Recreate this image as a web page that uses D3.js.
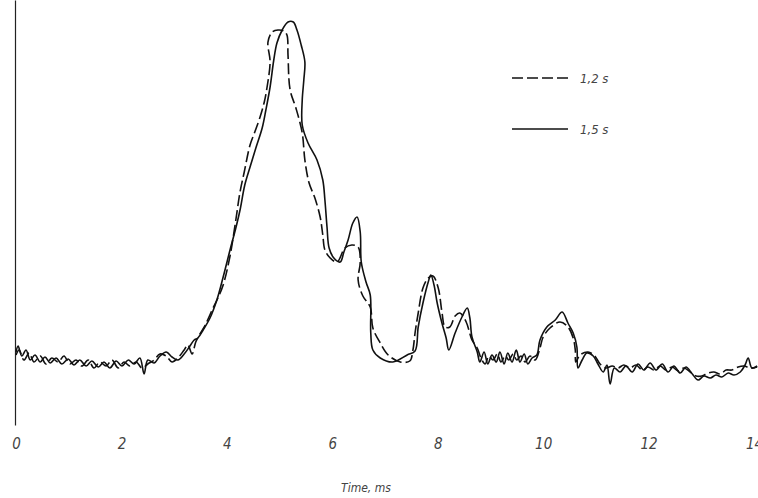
<!DOCTYPE html>
<html>
<head>
<meta charset="utf-8">
<script src="https://cdn.jsdelivr.net/npm/d3@7"></script>
<style>
  body { margin: 0; background: #fff; }
  text { font-family: "Liberation Sans Narrow", "DejaVu Sans Condensed", sans-serif; font-style: italic; fill: #444; }
</style>
</head>
<body>
<div id="viz"></div>
<script>
var width = 758;
var height = 498;

// series names (legend) and their traces: [time ms, amplitude]
var seriesNames = ['1,2 s', '1,5 s'];
var xTicks = [0, 2, 4, 6, 8, 10, 12, 14];

var trace12 = [
    [0.00,16.25],[0.06,17.5],[0.15,15.0],[0.25,16.75],[0.34,14.5],[0.46,16.0],[0.57,14.0],[0.68,15.5],
    [0.80,14.5],[0.91,16.0],[1.02,14.0],[1.14,15.0],[1.25,13.5],[1.37,15.0],[1.48,13.0],[1.59,14.5],
    [1.71,13.5],[1.82,15.0],[1.94,13.0],[2.05,14.5],[2.16,13.5],[2.28,14.5],[2.39,13.0],[2.50,14.0],
    [2.62,15.0],[2.73,16.5],[2.85,16.0],[2.96,14.5],[3.07,15.5],[3.19,17.5],[3.26,18.75],[3.34,16.5],
    [3.41,19.5],[3.49,21.5],[3.59,23.75],[3.72,27.5],[3.83,30.5],[3.93,33.75],[4.06,41.0],[4.17,50.0],
    [4.25,57.0],[4.33,62.0],[4.44,68.75],[4.53,72.0],[4.63,75.75],[4.71,79.5],[4.76,83.0],[4.82,89.5],
    [4.78,94.5],[4.86,97.0],[4.97,97.5],[5.08,97.25],[5.14,96.25],[5.16,91.25],[5.20,82.5],[5.31,78.0],
    [5.43,71.75],[5.48,65.0],[5.56,59.25],[5.67,55.5],[5.77,50.75],[5.82,46.25],[5.86,42.5],[5.96,40.5],
    [6.09,39.5],[6.24,43.0],[6.37,43.75],[6.49,43.25],[6.53,39.5],[6.49,35.0],[6.58,31.0],[6.72,28.25],
    [6.77,23.0],[6.91,19.25],[7.06,16.25],[7.29,14.5],[7.47,14.75],[7.53,17.5],[7.57,21.75],[7.63,26.75],
    [7.72,33.0],[7.82,35.5],[7.91,36.0],[8.01,33.0],[8.08,27.0],[8.14,23.25],[8.23,23.25],[8.33,26.0],
    [8.42,26.75],[8.54,24.5],[8.65,20.0],[8.75,18.0],[8.82,15.5],[8.90,14.0],[8.97,16.0],[9.05,15.0],
    [9.13,16.5],[9.20,14.5],[9.28,16.0],[9.35,15.0],[9.43,16.5],[9.50,15.0],[9.58,16.0],[9.66,14.5],
    [9.75,16.0],[9.85,15.0],[9.94,18.0],[10.00,20.75],[10.13,23.0],[10.32,24.5],[10.47,23.25],[10.57,20.5],
    [10.61,17.5],[10.62,14.5],[10.70,16.25],[10.85,17.0],[10.98,16.0],[11.08,14.0],[11.19,13.0],[11.31,13.5],
    [11.42,13.0],[11.53,13.75],[11.65,13.0],[11.76,13.75],[11.88,12.5],[11.99,13.25],[12.10,12.5],[12.22,13.5],
    [12.33,12.5],[12.45,13.25],[12.56,12.25],[12.67,13.0],[12.79,12.0],[12.90,11.0],[13.01,11.0],[13.13,11.75],
    [13.24,12.0],[13.36,11.5],[13.47,12.5],[13.58,12.5],[13.70,13.25],[13.81,13.5],[13.93,13.0],[14.06,13.25]
];

var trace15 = [
    [0.00,17.0],[0.04,18.5],[0.11,16.0],[0.19,17.5],[0.27,15.0],[0.36,16.25],[0.46,14.5],[0.55,15.75],
    [0.65,14.25],[0.76,15.5],[0.87,14.0],[0.99,15.25],[1.10,13.75],[1.21,15.0],[1.33,13.5],[1.44,14.75],
    [1.56,13.25],[1.67,14.5],[1.78,13.0],[1.90,14.75],[2.01,13.5],[2.13,15.0],[2.24,14.0],[2.35,15.5],
    [2.43,11.5],[2.50,15.0],[2.62,14.25],[2.73,16.0],[2.85,17.0],[2.96,15.75],[3.07,15.0],[3.19,16.5],
    [3.30,18.5],[3.38,20.0],[3.45,20.5],[3.55,22.5],[3.68,25.5],[3.81,30.0],[3.93,35.75],[4.06,42.5],
    [4.17,48.0],[4.25,52.5],[4.34,58.75],[4.44,63.25],[4.55,68.0],[4.67,73.0],[4.74,77.5],[4.82,83.25],
    [4.89,90.0],[4.95,94.25],[5.05,97.5],[5.16,99.5],[5.26,99.5],[5.33,97.5],[5.41,93.75],[5.48,89.5],
    [5.46,85.0],[5.43,80.0],[5.43,73.75],[5.54,69.25],[5.71,65.0],[5.82,60.0],[5.86,55.0],[5.90,48.25],
    [5.94,43.0],[6.03,40.5],[6.15,39.5],[6.22,42.0],[6.30,45.0],[6.39,49.25],[6.47,50.75],[6.53,47.0],
    [6.55,39.5],[6.64,34.5],[6.72,31.25],[6.73,21.75],[6.77,17.5],[6.91,15.5],[7.15,14.5],[7.42,16.25],
    [7.57,17.25],[7.63,23.25],[7.72,29.25],[7.82,34.5],[7.87,36.25],[7.93,33.75],[7.99,29.25],[8.08,24.25],
    [8.16,20.5],[8.21,17.5],[8.33,21.75],[8.46,25.75],[8.56,28.0],[8.61,25.5],[8.65,20.75],[8.75,17.0],
    [8.80,14.5],[8.88,17.0],[8.95,14.0],[9.03,16.25],[9.11,14.5],[9.18,17.0],[9.26,14.0],[9.33,16.75],
    [9.41,14.5],[9.49,17.5],[9.56,14.5],[9.64,16.5],[9.71,14.0],[9.79,15.5],[9.88,16.25],[9.94,20.0],
    [10.07,23.25],[10.23,25.0],[10.36,27.0],[10.47,24.25],[10.57,21.75],[10.64,18.25],[10.66,13.0],[10.74,15.0],
    [10.83,16.75],[10.95,16.0],[11.04,14.0],[11.14,12.0],[11.21,13.75],[11.27,9.0],[11.35,13.0],[11.46,12.0],
    [11.57,13.5],[11.69,12.0],[11.80,14.0],[11.91,12.5],[12.03,14.25],[12.14,12.5],[12.26,14.0],[12.37,12.0],
    [12.48,13.5],[12.60,11.75],[12.71,13.25],[12.83,11.5],[12.94,10.0],[13.05,11.0],[13.17,10.5],[13.28,11.25],
    [13.39,10.75],[13.51,11.75],[13.62,11.25],[13.74,12.0],[13.83,13.75],[13.89,15.5],[13.96,13.0],[14.06,13.5]
];

var traces = [trace12, trace15];
var dashes = ['11,4', null];

var x = d3.scaleLinear().domain([0, 14]).range([16, 754]);
var y = d3.scaleLinear().domain([-1.25, 105]).range([425, 0]);

var svg = d3.select('#viz')
    .append('svg')
    .attr('width', width)
    .attr('height', height);

// y axis: bare vertical line
svg.append('g')
    .attr('transform', 'translate(15,0)')
    .call(d3.axisLeft(y).tickValues([]).tickSizeOuter(0))
    .select('.domain')
    .attr('stroke', '#222')
    .attr('stroke-width', 1.2);

// x axis: labels only
var xAxis = svg.append('g')
    .attr('transform', 'translate(0,438)')
    .call(d3.axisBottom(x).tickValues(xTicks).tickSize(0).tickPadding(0));
xAxis.select('.domain').remove();
xAxis.selectAll('text')
    .attr('font-size', 15)
    .attr('font-family', null)
    .attr('fill', '#444');

svg.append('text')
    .attr('x', 366)
    .attr('y', 492)
    .attr('text-anchor', 'middle')
    .attr('font-size', 12)
    .text('Time, ms');

var line = d3.line()
    .x(function (d) { return x(d[0]); })
    .y(function (d) { return y(d[1]); })
    .curve(d3.curveCatmullRom.alpha(0.5));

svg.selectAll('path.trace')
    .data(traces)
    .enter().append('path')
    .attr('class', 'trace')
    .attr('d', line)
    .attr('fill', 'none')
    .attr('stroke', '#111')
    .attr('stroke-width', 1.6)
    .attr('stroke-dasharray', function (d, i) { return dashes[i]; });

// legend
var legend = svg.selectAll('g.legend')
    .data(seriesNames)
    .enter().append('g')
    .attr('class', 'legend')
    .attr('transform', function (d, i) { return 'translate(512,' + (78 + i * 51) + ')'; });

legend.append('line')
    .attr('x1', 0)
    .attr('x2', 56)
    .attr('stroke', '#111')
    .attr('stroke-width', 1.6)
    .attr('stroke-dasharray', function (d, i) { return dashes[i]; });

legend.append('text')
    .attr('x', 68)
    .attr('dy', '0.35em')
    .attr('font-size', 13)
    .text(function (d) { return d; });
</script>
</body>
</html>
